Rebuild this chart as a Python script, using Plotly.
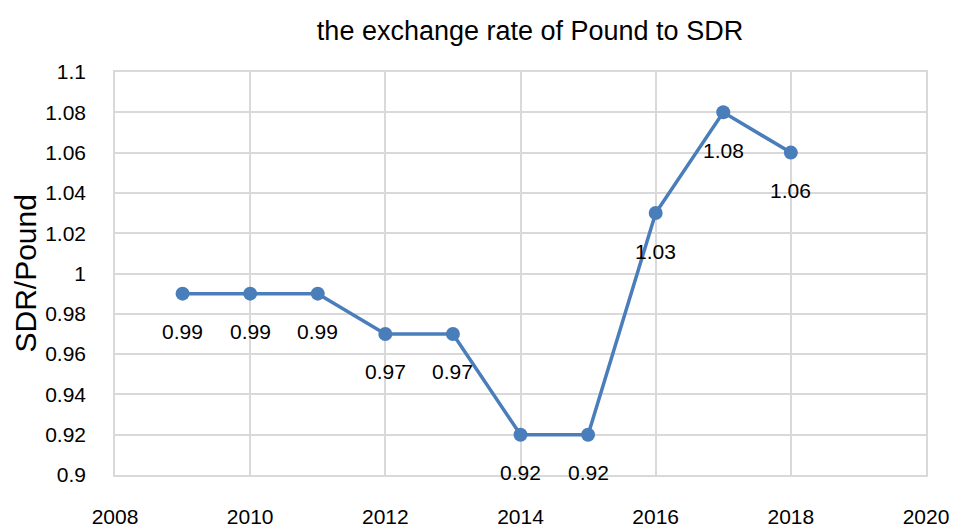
import plotly.graph_objects as go

years = [2009, 2010, 2011, 2012, 2013, 2014, 2015, 2016, 2017, 2018]
rates = [0.99, 0.99, 0.99, 0.97, 0.97, 0.92, 0.92, 1.03, 1.08, 1.06]
labels = ["0.99", "0.99", "0.99", "0.97", "0.97", "0.92", "0.92", "1.03", "1.08", "1.06"]
y_ticks = [0.9, 0.92, 0.94, 0.96, 0.98, 1.0, 1.02, 1.04, 1.06, 1.08, 1.1]
y_tick_text = ["0.9", "0.92", "0.94", "0.96", "0.98", "1", "1.02", "1.04", "1.06", "1.08", "1.1"]
x_ticks = [2008, 2010, 2012, 2014, 2016, 2018, 2020]

FONT = "Liberation Sans, Arial, sans-serif"
color = "#4a7ebb"

W, H = 960, 527
L, R, T, B = 107, 42, 64, 60
plot_w = W - L - R

fig = go.Figure()
fig.add_trace(go.Scatter(
    x=years, y=rates, mode="lines+markers",
    line=dict(color=color, width=3.5),
    marker=dict(color=color, size=14),
    showlegend=False, hoverinfo="skip",
))

for x, y, t in zip(years, rates, labels):
    fig.add_annotation(x=x, y=y, text=t, showarrow=False, yshift=-38,
                       font=dict(family=FONT, size=21, color="#000000"))

# y-axis title
fig.add_annotation(xref="paper", yref="paper", x=(17 - L) / plot_w, y=0.5,
                   text="SDR/Pound", textangle=-90, showarrow=False,
                   xanchor="center", yanchor="middle",
                   font=dict(family=FONT, size=30, color="#000000"))

fig.update_layout(
    width=W, height=H,
    margin=dict(l=L, r=R, t=T, b=B, autoexpand=False),
    paper_bgcolor="white", plot_bgcolor="white",
    title=dict(text="the exchange rate of Pound to SDR", x=522 / W, xanchor="center",
               xref="container", yref="container",
               y=1 - 23 / H, yanchor="middle",
               font=dict(family=FONT, size=27, color="#000000")),
    font=dict(family=FONT, size=21, color="#000000"),
)
fig.update_xaxes(range=[2008, 2020], tickvals=x_ticks, ticktext=[str(v) for v in x_ticks],
                 showgrid=True, gridcolor="#d9d9d9", gridwidth=1.5,
                 showline=True, linecolor="#d9d9d9", linewidth=1.5, mirror=True,
                 zeroline=False, ticks="", ticklabelstandoff=22, automargin=False,
                 tickfont=dict(family=FONT, size=21, color="#000000"))
fig.update_yaxes(range=[0.9, 1.1], tickvals=y_ticks, ticktext=y_tick_text,
                 showgrid=True, gridcolor="#d9d9d9", gridwidth=1.5,
                 showline=True, linecolor="#d9d9d9", linewidth=1.5, mirror=True,
                 zeroline=False, ticks="", ticklabelstandoff=23, automargin=False,
                 tickfont=dict(family=FONT, size=21, color="#000000"))

fig.write_html("out.html")
